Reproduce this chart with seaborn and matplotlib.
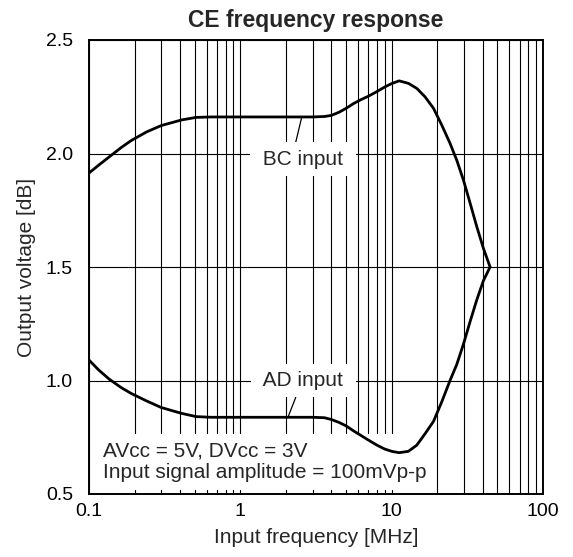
import matplotlib
matplotlib.use("Agg")
import matplotlib.pyplot as plt
import numpy as np
import pandas as pd
import seaborn as sns
from matplotlib.ticker import FixedLocator, LogLocator, NullFormatter

# values (MHz, dB)
bc_freq = [0.1, 0.116, 0.136, 0.163, 0.19, 0.24, 0.3, 0.41, 0.51, 0.64, 1, 2, 3,
           3.6, 4, 4.5, 5, 5.6, 6.3, 7, 8, 9, 10, 11.2, 12.9, 14.65, 16.6, 18.9,
           21.4, 24.3, 26.9, 29.8, 33, 36.5, 40.4, 44.7]
bc_volt = [1.914, 1.949, 1.985, 2.026, 2.057, 2.095, 2.123, 2.148, 2.159, 2.161,
           2.161, 2.161, 2.161, 2.163, 2.168, 2.182, 2.199, 2.22, 2.238, 2.252,
           2.273, 2.293, 2.308, 2.32, 2.309, 2.287, 2.25, 2.199, 2.126, 2.045,
           1.971, 1.883, 1.781, 1.678, 1.582, 1.5]

ad_freq = [0.1, 0.116, 0.136, 0.163, 0.19, 0.24, 0.3, 0.41, 0.51, 0.64, 1, 2, 3,
           3.6, 4, 4.5, 5, 5.6, 6.3, 7, 8, 9, 10, 11.2, 12.9, 14.65, 16.6, 18.9,
           21.4, 24.3, 26.9, 29.8, 33, 36.5, 40.4, 44.7]
ad_volt = [1.09, 1.046, 1.006, 0.969, 0.943, 0.91, 0.881, 0.855, 0.841, 0.838,
           0.838, 0.838, 0.838, 0.836, 0.828, 0.815, 0.8, 0.778, 0.757, 0.738,
           0.715, 0.698, 0.688, 0.682, 0.688, 0.715, 0.765, 0.82, 0.905, 1.0,
           1.07, 1.16, 1.26, 1.355, 1.44, 1.5]

x_ticks = [0.1, 1, 10, 100]
x_tick_labels = ["0.1", "1", "10", "100"]
y_ticks = [0.5, 1.0, 1.5, 2.0, 2.5]

df = pd.concat([
    pd.DataFrame({"freq": bc_freq, "volt": bc_volt, "series": "BC input"}),
    pd.DataFrame({"freq": ad_freq, "volt": ad_volt, "series": "AD input"}),
])

sns.set_theme(style="white")
plt.rcParams["font.family"] = ["Liberation Sans", "DejaVu Sans"]

fig = plt.figure(figsize=(5.73, 5.57), dpi=100)
ax = fig.add_axes([89 / 573, 1 - 494 / 557, 454 / 573, 454 / 557])

sns.lineplot(data=df, x="freq", y="volt", hue="series",
             palette={"BC input": "black", "AD input": "black"},
             estimator=None, sort=False, linewidth=2.0, legend=False,
             ax=ax, zorder=5)

ax.set_xscale("log")
ax.set_xlim(0.1, 100)
ax.set_ylim(0.5, 2.5)
ax.xaxis.set_major_locator(FixedLocator(x_ticks))
ax.set_xticklabels(x_tick_labels)
ax.xaxis.set_minor_locator(LogLocator(base=10, subs=np.arange(2, 10)))
ax.xaxis.set_minor_formatter(NullFormatter())
ax.set_yticks(y_ticks)
ax.set_yticklabels([f"{v:.1f}" for v in y_ticks])

ax.grid(True, which="both", axis="x", color="black", linewidth=0.8)
ax.grid(True, which="major", axis="y", color="black", linewidth=0.8)
ax.set_axisbelow(True)

ax.tick_params(axis="both", which="both", length=0, labelsize=14, colors="black")
ax.tick_params(axis="x", pad=6.5)
ax.tick_params(axis="y", pad=11.5)
for s in ax.spines.values():
    s.set_color("black")
    s.set_linewidth(1.4)

ax.set_xlabel("Input frequency [MHz]", fontsize=15, labelpad=6)
ax.set_ylabel("Output voltage [dB]", fontsize=15, labelpad=7)
ax.set_title("CE frequency response", fontsize=16.5, fontweight="bold", pad=9)

# curve labels with leader lines
box = dict(boxstyle="square,pad=0.35", fc="white", ec="none")
ax.annotate(" BC input ", xy=(2.545, 2.16), xytext=(2.6, 1.975),
            ha="center", va="center", fontsize=15, bbox=box, zorder=4,
            arrowprops=dict(arrowstyle="-", lw=0.9, color="black",
                            relpos=(0.4, 1.0), shrinkA=0, shrinkB=0))
ax.annotate(" AD input ", xy=(2.07, 0.84), xytext=(2.6, 1.0),
            ha="center", va="center", fontsize=15, bbox=box, zorder=4,
            arrowprops=dict(arrowstyle="-", lw=0.9, color="black",
                            relpos=(0.45, 0.0), shrinkA=0, shrinkB=0))

# measurement conditions
ax.text(0.1237, 0.57, "AVcc = 5V, DVcc = 3V\nInput signal amplitude = 100mVp-p",
        ha="left", va="baseline", fontsize=15, linespacing=1.15, zorder=4,
        bbox=dict(boxstyle="square,pad=0.4", fc="white", ec="none"))

fig.savefig("out.png", dpi=100)
